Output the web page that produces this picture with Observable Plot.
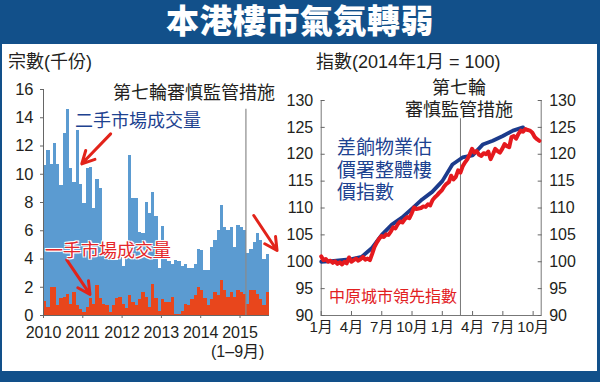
<!DOCTYPE html>
<html><head><meta charset="utf-8">
<script src="https://cdn.jsdelivr.net/npm/d3@7"></script>
<script src="https://cdn.jsdelivr.net/npm/@observablehq/plot@0.6"></script>
<style>
html,body{margin:0;padding:0;background:#fff;}
#wrap{position:relative;width:600px;height:382px;overflow:hidden;background:#fff;
  font-family:"Liberation Sans","Noto Sans CJK TC",sans-serif;color:#231f20;}
.abs{position:absolute;white-space:nowrap;line-height:1;}
.plotbox{position:absolute;top:0;}
.blk{background:#12508a;position:absolute;}
</style></head><body>
<div id="wrap">
  <div class="blk" style="left:0;top:0;width:600px;height:44px;"></div>
  <div class="blk" style="left:0;top:44px;width:2px;height:327px;"></div>
  <div class="blk" style="left:597px;top:44px;width:3px;height:327px;"></div>
  <div class="blk" style="left:0;top:371px;width:600px;height:11px;"></div>
  <div id="leftPlot" class="plotbox" style="left:0;"></div>
  <div id="rightPlot" class="plotbox" style="left:300px;"></div>
  <div class="abs" style="left:0;top:5px;width:600px;text-align:center;font-family:'Liberation Sans','Noto Sans CJK TC',sans-serif;font-weight:900;font-size:33px;color:#fff;letter-spacing:0.5px;">本港樓市氣氛轉弱</div>
  <div class="abs" style="left:8px;top:53px;font-size:18px;">宗數(千份)</div>
  <div class="abs" style="left:113px;top:84px;font-size:18px;">第七輪審慎監管措施</div>
  <div class="abs" style="left:75px;top:112px;font-size:18px;color:#1d4290;">二手市場成交量</div>
  <div class="abs" style="left:45px;top:242px;font-size:18px;color:#e5262a;text-shadow:0 0 2px #fff,1px 1px 0 #fff,-1px -1px 0 #fff,1px -1px 0 #fff,-1px 1px 0 #fff;">一手市場成交量</div>
  <div class="abs" style="left:211px;top:344px;font-size:16px;">(1–9月)</div>
  <div class="abs" style="left:316px;top:53px;font-size:18px;">指數(2014年1月 = 100)</div>
  <div class="abs" style="left:409px;top:79px;width:100px;text-align:center;font-size:18px;">第七輪</div>
  <div class="abs" style="left:389px;top:101px;width:140px;text-align:center;font-size:18px;">審慎監管措施</div>
  <div class="abs" style="left:337px;top:137px;font-size:19px;line-height:22.5px;color:#1d4290;white-space:pre;">差餉物業估
價署整體樓
價指數</div>
  <div class="abs" style="left:329px;top:289px;font-size:16px;color:#e2201f;">中原城市領先指數</div>
</div>
<script>
// ---------- data ----------
const years = ["2010","2011","2012","2013","2014","2015"];
// secondary market transactions (thousand), monthly Jan 2010 - Sep 2015
const secondary = [
  10.6, 11.7, 10.7, 12.2, 10.7, 9.2, 12.9, 14.6, 10.4, 9.4, 13.1, 9.3,
  7.9, 10.4, 10.5, 7.6, 9.6, 9.0, 4.6, 4.4, 4.5, 4.1, 3.9, 4.2,
  3.5, 4.6, 11.3, 8.3, 8.3, 5.9, 5.8, 8.0, 7.2, 8.7, 7.0, 3.3,
  6.3, 4.0, 3.8, 3.6, 3.9, 3.8, 3.5, 3.6, 3.3, 3.3, 3.6, 4.7,
  4.6, 3.2, 3.2, 4.8, 5.3, 6.0, 7.8, 6.2, 6.0, 6.2, 4.8, 6.4,
  6.2, 6.0, 4.4, 4.7, 5.2, 5.8, 5.3, 4.0, 4.3
];
// primary market transactions (thousand)
const primary = [
  1.0, 0.6, 2.0, 2.0, 0.7, 1.2, 1.3, 1.5, 0.8, 1.6, 0.7, 0.4,
  0.2, 0.6, 1.2, 0.8, 2.1, 1.2, 0.8, 0.7, 0.2, 0.7, 1.2, 1.3,
  0.8, 0.5, 1.4, 0.9, 0.7, 1.1, 1.6, 1.3, 0.6, 2.2, 1.2, 0.3,
  1.1, 0.9, 0.9, 1.3, 0.1, 0.1, 0.3, 0.8, 0.7, 1.1, 1.4, 2.0,
  1.8, 1.2, 0.7, 1.1, 1.6, 1.4, 2.5, 1.8, 1.3, 1.6, 1.3, 1.8,
  1.6, 1.5, 0.8, 1.8, 1.8, 1.5, 1.1, 0.7, 1.6
];
const policyMonthL = 61.8;   // late Feb 2015, months since Jan 2010
const policyTopL = 14.6;
const arrowNotes = [
  {x1: 20.5, y1: 12.86, x2: 11.7, y2: 10.74},
  {x1: 7.1, y1: 3.94, x2: 14.2, y2: 1.49},
  {x1: 64.2, y1: 7.08, x2: 71.3, y2: 4.6}
];

const monthLabels = ["1月","4月","7月","10月","1月","4月","7月","10月"];
// R&V price index, monthly from Jan 2014
const rvIndex = [100.0, 100.1, 100.3, 100.5, 100.9, 102.5, 105.0, 106.9, 108.2, 109.9, 111.6,
  113.0, 115.0, 118.1, 119.4, 119.8, 121.8, 122.5, 123.4, 124.4, 125.0];
// Centa-City Leading Index, weekly from first week of 2014
const cclIndex = [
  101.0, 100.3, 100.5, 100.0, 100.2, 99.8, 100.1, 99.6, 99.9, 99.5, 100.0, 99.7,
  100.8, 100.0, 100.3, 100.6, 100.2, 100.5, 100.9, 100.4, 100.6, 100.3,
  101.5, 102.8, 103.6, 104.3, 104.8, 104.6, 105.1, 105.0, 105.6, 106.4, 106.2, 107.0,
  107.5, 107.3, 107.9, 108.3, 108.1, 109.0, 110.1, 109.8, 109.9, 110.0, 110.3, 110.2,
  110.7, 110.5, 111.5, 112.0, 112.4, 112.9, 113.3, 114.0, 114.5, 114.8, 116.0, 115.3,
  115.8, 117.0, 116.6, 117.8, 118.5, 119.1, 120.0, 121.0, 120.3, 120.6, 119.9, 119.7,
  120.2, 120.0, 120.5, 119.1, 120.0, 121.0, 120.6, 120.3, 121.0, 121.9, 121.5, 121.3,
  123.2, 123.4, 122.9, 123.8, 124.4, 124.2, 124.7, 124.5, 124.4, 124.0, 123.2, 122.8, 122.5
];
const policyMonthR = 13.8;
const policyTopR = 126.6;
const xEndR = 21.8;

// ---------- build ----------
const FONT = "'Liberation Sans','Noto Sans CJK TC',sans-serif";
const barsData = secondary.map((v, i) => ({i, sec: v, pri: primary[i]}));

const left = Plot.plot({
  width: 300, height: 382,
  marginLeft: 43, marginRight: 31, marginTop: 89, marginBottom: 67,
  style: {background: "transparent", fontFamily: FONT, fontSize: "16px", color: "#231f20", overflow: "visible"},
  x: {domain: [0, secondary.length]},
  y: {domain: [0, 16]},
  marks: [
    Plot.rect(barsData, {x1: "i", x2: d => d.i + 1, y1: 0, y2: "sec", fill: "#5b9bd1", shapeRendering: "crispEdges"}),
    Plot.rect(barsData, {x1: "i", x2: d => d.i + 1, y1: 0, y2: "pri", fill: "#e8461c", shapeRendering: "crispEdges"}),
    Plot.ruleX([policyMonthL], {y1: 0, y2: policyTopL, stroke: "#8a8a8a", strokeWidth: 1.2}),
    Plot.ruleX([0], {stroke: "#666"}),
    Plot.ruleY([0], {stroke: "#666"}),
    Plot.axisY({ticks: d3.range(0, 17, 2), tickSize: 3, tickPadding: 7, fontSize: 16.5, stroke: "#666", label: null}),
    Plot.axisX({ticks: years.map((_, k) => k * 12), tickFormat: d => years[d / 12], tickSize: 3, tickPadding: 8, fontSize: 16, stroke: "#666", label: null}),
    Plot.arrow(arrowNotes, {x1: "x1", y1: "y1", x2: "x2", y2: "y2", stroke: "#e2231a", strokeWidth: 3, headLength: 12, headAngle: 55})
  ]
});
document.getElementById("leftPlot").appendChild(left);

const rvData = rvIndex.map((v, m) => ({m, v}));
const cclData = cclIndex.map((v, w) => ({m: w * 7 / 30.44, v}));

const right = Plot.plot({
  width: 300, height: 382,
  marginLeft: 20.7, marginRight: 59.3, marginTop: 100, marginBottom: 67,
  style: {background: "transparent", fontFamily: FONT, fontSize: "16px", color: "#231f20", overflow: "visible"},
  x: {domain: [0, xEndR]},
  y: {domain: [90, 130]},
  marks: [
    Plot.ruleX([0, xEndR], {stroke: "#777"}),
    Plot.ruleY([90], {stroke: "#777"}),
    Plot.ruleX([policyMonthR], {y1: 90, y2: policyTopR, stroke: "#777", strokeWidth: 1}),
    Plot.axisY({anchor: "left", ticks: d3.range(90, 131, 5), tickSize: -4, tickPadding: 12, fontSize: 16, stroke: "#666", label: null}),
    Plot.axisY({anchor: "right", ticks: d3.range(90, 131, 5), tickSize: -4, tickPadding: 12, fontSize: 16, stroke: "#666", label: null}),
    Plot.axisX({ticks: d3.range(0, 22, 3), tickFormat: d => monthLabels[d / 3], tickSize: -4, tickPadding: 10, fontSize: 15, stroke: "#666", label: null}),
    Plot.line(rvData, {x: "m", y: "v", stroke: "#1c3b8c", strokeWidth: 3.8}),
    Plot.line(cclData, {x: "m", y: "v", stroke: "#e5191e", strokeWidth: 4})
  ]
});
document.getElementById("rightPlot").appendChild(right);
</script>
</body></html>
